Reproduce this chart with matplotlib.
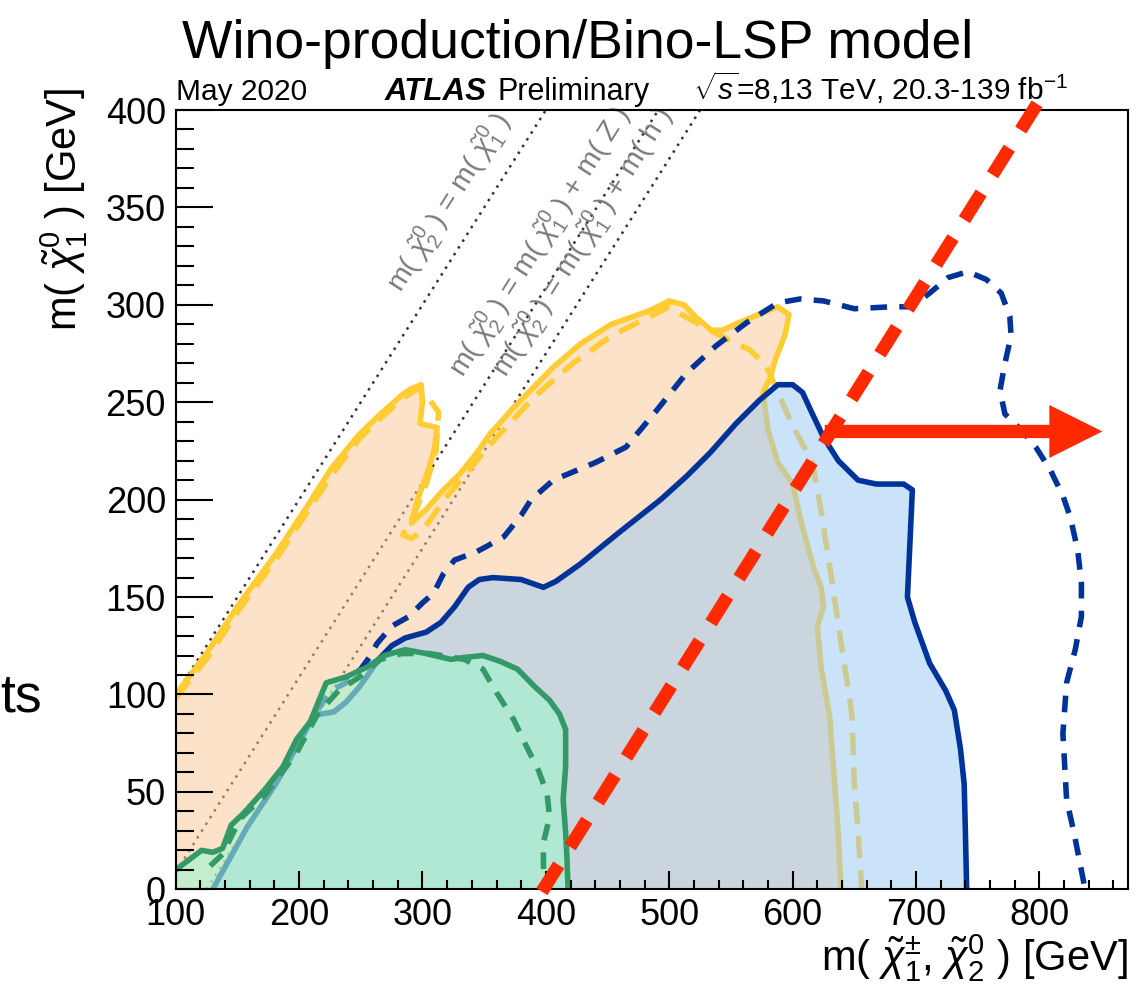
import matplotlib
matplotlib.use('Agg')
import matplotlib.pyplot as plt
from matplotlib.patches import FancyArrow
from matplotlib.ticker import MultipleLocator

plt.rcParams['font.family'] = ['Liberation Sans', 'DejaVu Sans']
plt.rcParams['mathtext.fontset'] = 'custom'
plt.rcParams['mathtext.rm'] = 'Liberation Sans'
plt.rcParams['mathtext.it'] = 'Liberation Sans:italic'
plt.rcParams['mathtext.bf'] = 'Liberation Sans:bold'

# ------------------------------------------------------------
# contours: m(chi1+/-, chi2^0) [GeV] vs m(chi1^0) [GeV]
# ------------------------------------------------------------
# orange analysis, observed (solid) and expected (dashed)
orange_obs_x = [100, 125, 152, 181, 207, 226, 248, 266, 284, 291, 299, 300, 298, 312, 309,
                303, 297, 293, 291, 303, 317, 330, 344, 355, 375, 406, 428, 453, 484,
                500, 512, 521, 534, 543, 557, 576, 588, 597, 594, 586, 582, 576, 580,
                588, 600, 606, 616, 623, 625, 620, 623, 630, 634, 637, 639]
orange_obs_y = [100, 121, 147, 172, 197, 216, 233, 244, 254, 257, 259, 250, 239, 237, 224,
                212, 202, 193, 188, 195, 205, 213, 224, 234, 248, 268, 280, 290, 297,
                302, 300, 294, 287, 287, 291, 296, 299, 295, 285, 272, 263, 255, 236,
                219, 208, 191, 167, 155, 145, 135, 114, 89, 54, 29, 0]
orange_exp_x = [100, 126, 153, 182, 208, 228, 250, 268, 284, 296, 306, 313, 311, 303, 293,
                284, 291, 300, 319, 335, 353, 369, 391, 422, 453, 478, 500, 510, 530,
                548, 565, 577, 582, 588, 600, 616, 622, 628, 634, 640, 646, 648, 650,
                653, 656]
orange_exp_y = [98, 119, 145, 170, 195, 214, 232, 243, 252, 257, 251, 245, 225, 208, 192,
                182, 180, 184, 201, 213, 227, 238, 253, 270, 284, 292, 299, 295, 288,
                282, 277, 270, 264, 255, 238, 219, 198, 174, 149, 123, 99, 89, 54,
                29, 0]

# blue analysis
blue_obs_x = [130, 158, 181, 198, 212, 218, 228, 238, 249, 258, 263, 275, 286, 303, 315,
              326, 337, 346, 357, 380, 398, 408, 428, 459, 493, 514, 533, 554, 573,
              588, 600, 608, 616, 625, 637, 653, 668, 690, 697, 696, 693, 699, 711,
              724, 731, 736, 739, 740, 741]
blue_obs_y = [0, 32, 54, 73, 89, 90, 91, 96, 104, 112, 117, 125, 129, 132, 137,
              145, 155, 159, 160, 159, 155, 158, 167, 183, 200, 212, 224, 239, 251,
              259, 259, 255, 244, 232, 220, 210, 208, 208, 205, 191, 150, 137, 116,
              102, 92, 72, 54, 29, 0]
blue_exp_x = [215, 226, 238, 250, 258, 263, 275, 289, 300, 309, 317, 326, 343, 352, 366,
              380, 388, 406, 440, 465, 490, 514, 538, 563, 588, 606, 625, 650, 680,
              696, 711, 726, 742, 757, 769, 776, 777, 772, 768, 772, 785, 797, 809,
              819, 825, 831, 834, 834, 829, 822, 819, 822, 828, 837]
blue_exp_y = [92, 102, 106, 113, 120, 126, 135, 140, 147, 152, 162, 169, 173, 176, 181,
              192, 200, 210, 219, 227, 246, 265, 279, 291, 301, 303, 302, 298, 299,
              299, 306, 314, 317, 313, 306, 294, 284, 270, 256, 244, 236, 227, 215,
              202, 191, 174, 157, 140, 123, 106, 80, 46, 29, 0]

# green analysis
green_obs_x = [100, 121, 130, 138, 145, 155, 172, 187, 198, 209, 222, 238, 255, 269, 286,
               303, 323, 334, 349, 363, 377, 391, 403, 411, 416, 416, 414, 416, 417, 418]
green_obs_y = [10, 20, 19, 21, 33, 39, 51, 63, 77, 86, 106, 109, 114, 120, 123,
               121, 118, 119, 120, 117, 113, 104, 97, 90, 82, 63, 46, 29, 17, 0]
green_exp_x = [128, 138, 152, 172, 198, 215, 232, 249, 266, 283, 306, 334, 349, 360, 374,
               383, 394, 401, 403, 398, 398, 400]
green_exp_y = [12, 18, 36, 48, 70, 90, 102, 109, 118, 121, 121, 118, 113, 101, 87,
               75, 61, 49, 37, 24, 12, 0]

# kinematic limits: m(chi2) - m(chi1) = 0, m(Z), m(h)
kin_offsets = [0.0, 91.2, 125.0]
kin_labels = [r'm( $\tilde{\chi}_{2}^{0}$ ) = m( $\tilde{\chi}_{1}^{0}$ )',
              r'm( $\tilde{\chi}_{2}^{0}$ ) = m( $\tilde{\chi}_{1}^{0}$ ) + m( Z )',
              r'm( $\tilde{\chi}_{2}^{0}$ ) = m( $\tilde{\chi}_{1}^{0}$ ) + m( h )']
kin_label_x = [283, 333, 368]
kin_label_y = [306, 262, 262]

# red projection line and arrow
red_x = [396.8, 798.1]
red_y = [-1.2, 403.1]
arrow_x = [626, 851]
arrow_y = 235

# ------------------------------------------------------------
# colours
# ------------------------------------------------------------
YELLOW = '#FFCC33'
NAVY = '#003399'
GREEN = '#339966'
RED = '#FF2A00'
LW = 4.0

W, H = 1146, 988
fig = plt.figure(figsize=(W / 100, H / 100), dpi=100)
ax = fig.add_axes([175.7 / W, 1 - 889.3 / H, (1128.3 - 175.7) / W, (889.3 - 110) / H])
ax.set_xlim(100, 872)
ax.set_ylim(0, 400)

# dotted kinematic lines
for off in kin_offsets:
    x0 = max(100, off)
    ax.plot([x0, 400 + off], [x0 - off, 400], color='#333333', lw=1.8,
            linestyle=(0, (1, 2.2)), zorder=0.5)
for lab, lx, ly in zip(kin_labels, kin_label_x, kin_label_y):
    ax.text(lx, ly, lab, color='#7a7a7a', fontsize=20.5, rotation=57.7,
            rotation_mode='anchor', ha='left', va='baseline', zorder=0.6)

# orange
ax.fill(orange_obs_x + [100], orange_obs_y + [0], color='#FBC793', alpha=0.5, lw=0, zorder=1.0)
ax.plot(orange_obs_x, orange_obs_y, color=YELLOW, lw=LW, zorder=1.1)
ax.plot(orange_exp_x, orange_exp_y, color=YELLOW, lw=LW, linestyle=(0, (4, 2.2)), zorder=1.1)

# blue
ax.fill(blue_obs_x, blue_obs_y, color='#99C9F3', alpha=0.5, lw=0, zorder=1.2)
ax.plot(blue_obs_x, blue_obs_y, color=NAVY, lw=LW, zorder=1.3)
ax.plot(blue_exp_x, blue_exp_y, color=NAVY, lw=LW, linestyle=(0, (3, 2.2)), zorder=1.3)

# green
ax.fill(green_obs_x + [100], green_obs_y + [0], color='#A2F5CD', alpha=0.62, lw=0, zorder=1.4)
ax.plot(green_obs_x, green_obs_y, color=GREEN, lw=LW, zorder=1.5)
ax.plot(green_exp_x, green_exp_y, color=GREEN, lw=LW, linestyle=(0, (3, 2.2)), zorder=1.5)

# red dashed line + arrow
red_lw = 9.4
ax.plot(red_x, red_y, color=RED, lw=red_lw, linestyle=(0, (22.7 / red_lw, 15.4 / red_lw)),
        dash_capstyle='butt', clip_on=False, zorder=3)
ax.add_patch(FancyArrow(arrow_x[0], arrow_y, arrow_x[1] - arrow_x[0], 0, width=6.8,
                        head_width=27.2, head_length=43, length_includes_head=True,
                        color=RED, lw=0, zorder=3, clip_on=False))

# axes styling
for s in ax.spines.values():
    s.set_linewidth(1.5)
ax.xaxis.set_major_locator(MultipleLocator(100))
ax.xaxis.set_minor_locator(MultipleLocator(20))
ax.yaxis.set_major_locator(MultipleLocator(50))
ax.yaxis.set_minor_locator(MultipleLocator(10))
ax.tick_params(which='both', direction='in', top=False, right=False, width=1.5, labelsize=26)
ax.xaxis.set_tick_params(which='major', length=13, pad=6)
ax.xaxis.set_tick_params(which='minor', length=6.5)
ax.yaxis.set_tick_params(which='major', length=26.6, pad=7)
ax.yaxis.set_tick_params(which='minor', length=13)


def fx(px):
    return px / W


def fy(py):
    return 1 - py / H


fig.text(fx(578), fy(58), 'Wino-production/Bino-LSP model', fontsize=38.5, ha='center', va='baseline')
fig.text(fx(176), fy(100), 'May 2020', fontsize=21.5, ha='left', va='baseline')
fig.text(fx(385), fy(100), 'ATLAS', fontsize=22.5, ha='left', va='baseline',
         fontweight='bold', fontstyle='italic')
fig.text(fx(497), fy(100), 'Preliminary', fontsize=22, ha='left', va='baseline')
fig.text(fx(1068), fy(100), r'$\sqrt{s}$=8,13 TeV, 20.3-139 fb$^{-1}$', fontsize=21.5,
         ha='right', va='baseline')
fig.text(fx(42), fy(711), 'ts', fontsize=38.5, ha='right', va='baseline')

fig.text(fx(64), fy(88), r'm( $\tilde{\chi}_{1}^{0}$ ) [GeV]', fontsize=30, rotation=90,
         ha='center', va='top')
fig.text(fx(1128), fy(970), r'm( $\tilde{\chi}_{1}^{\pm}$, $\tilde{\chi}_{2}^{0}$ ) [GeV]',
         fontsize=30, ha='right', va='baseline')

fig.savefig('out.png', dpi=100)
